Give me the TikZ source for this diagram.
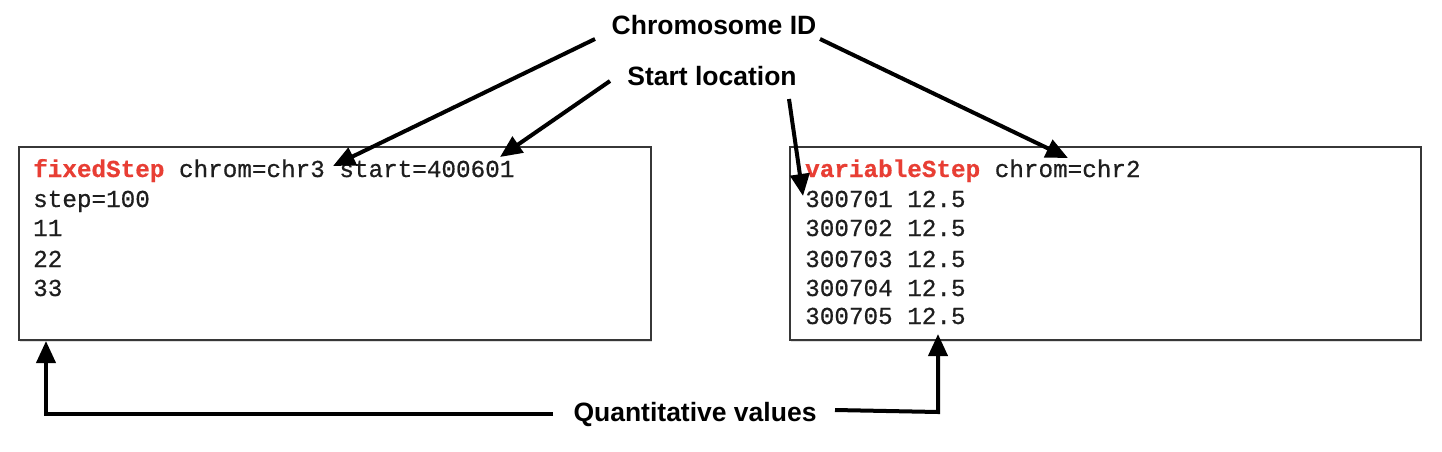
\documentclass[tikz,border=0pt]{standalone}
\usepackage{fontspec}
\setmainfont{Liberation Sans}
\setmonofont[FakeBold=0.6]{Liberation Mono}
\usetikzlibrary{arrows.meta,shadows}
\definecolor{kwred}{RGB}{232,62,52}
\definecolor{boxgray}{RGB}{55,55,55}
\definecolor{codeblack}{RGB}{30,30,30}
\tikzset{
  box/.style={draw=boxgray, line width=1.8pt, fill=white, inner sep=0pt,
    drop shadow={opacity=0.25, shadow xshift=1pt, shadow yshift=-2pt}},
  code/.style={anchor=base west, inner sep=0pt, text=codeblack, font=\ttfamily\fontsize{24.3}{26}\selectfont},
  lab/.style={anchor=base, inner sep=0pt, font=\bfseries\fontsize{26.5}{28}\selectfont},
  arr/.style={line width=4pt, -{Triangle[length=22pt,width=19pt]}}
}
\newcommand{\kwd}[1]{\textcolor{kwred}{\textbf{#1}}}
\begin{document}
\begin{tikzpicture}[x=1pt,y=-1pt]
\useasboundingbox (0,0) rectangle (1442,452);
% boxes
\node[box, minimum width=632pt, minimum height=193pt] (leftbox) at (335,243.5) {};
\node[box, minimum width=631pt, minimum height=193pt] (rightbox) at (1105.5,243.5) {};
% left box text
\node[code] (l1) at (33,177) {\kwd{fixedStep} chrom=chr3 start=400601};
\node[code] (l2) at (33,207) {step=100};
\node[code] (l3) at (33,236) {11};
\node[code] (l4) at (33,267) {22};
\node[code] (l5) at (33,296) {33};
% right box text
\node[code] (r1) at (805,177) {\kwd{variableStep} chrom=chr2};
\node[code] (r2) at (805,207) {300701 12.5};
\node[code] (r3) at (805,236) {300702 12.5};
\node[code] (r4) at (805,267) {300703 12.5};
\node[code] (r5) at (805,296) {300704 12.5};
\node[code] (r6) at (805,324) {300705 12.5};
% labels
\node[lab] (chrom) at (714,35) {Chromosome ID};
\node[lab] (startloc) at (712,85) {Start location};
\node[lab] (quant) at (695,421) {Quantitative values};
% arrow end points
\coordinate (c1s) at (595,39);
\coordinate (c1e) at (333,166);
\coordinate (c2s) at (820,39);
\coordinate (c2e) at (1068,158);
\coordinate (s1s) at (610,81);
\coordinate (s1e) at (500,157);
\coordinate (s2s) at (789,99);
\coordinate (s2e) at (803,196);
\coordinate (q1s) at (553,414);
\coordinate (q1c) at (46,414);
\coordinate (q1e) at (46,341);
\coordinate (q2s) at (835,410);
\coordinate (q2c) at (938,412);
\coordinate (q2e) at (938,334);
% arrows
\draw[arr] (c1s) -- (c1e);
\draw[arr] (c2s) -- (c2e);
\draw[arr] (s1s) -- (s1e);
\draw[arr] (s2s) -- (s2e);
\draw[arr] (q1s) -- (q1c) -- (q1e);
\draw[arr] (q2s) -- (q2c) -- (q2e);
\end{tikzpicture}
\end{document}
